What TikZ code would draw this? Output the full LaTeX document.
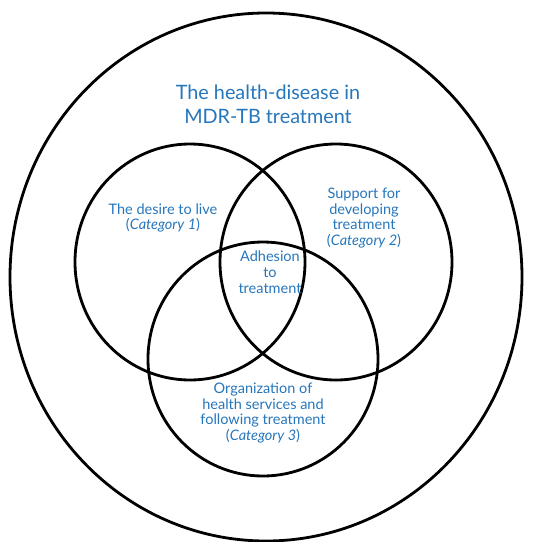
\documentclass[tikz,border=0pt]{standalone}
\usepackage{fontspec}
\setmainfont{Lato}
\usetikzlibrary{calc}
\definecolor{venblue}{RGB}{38,118,188}

\begin{document}
\begin{tikzpicture}[x=1pt,y=-1pt,inner sep=0pt,
  ring/.style={line width=2.8pt},
  lbl/.style={text=venblue,align=center,font=\fontsize{14.5}{15.8}\selectfont},
  ttl/.style={text=venblue,align=center,font=\fontsize{19.8}{24}\selectfont}]
\useasboundingbox (0,0) rectangle (539,542);
\coordinate (O)  at (266,277);
\coordinate (C1) at (190,262);
\coordinate (C2) at (336,262);
\coordinate (C3) at (263,359);
\draw [ring] (O)  ellipse [x radius=256, y radius=264];
\draw [ring] (C1) ellipse [x radius=115, y radius=118];
\draw [ring] (C2) ellipse [x radius=116, y radius=118];
\draw [ring] (C3) ellipse [x radius=115, y radius=117];
\node [ttl] (title) at (268,104) {The health-disease in\\MDR-TB treatment};
\node [lbl] (cat1) at (163,218) {The desire to live\\(\textit{Category 1})};
\node [lbl] (cat2) at (364,218) {Support for\\developing\\treatment\\(\textit{Category 2})};
\node [lbl] (core) at (270,272) {Adhesion\\to\\treatment};
\node [lbl] (cat3) at (263,413) {Organization of\\health services and\\following treatment\\(\textit{Category 3})};
\end{tikzpicture}
\end{document}
